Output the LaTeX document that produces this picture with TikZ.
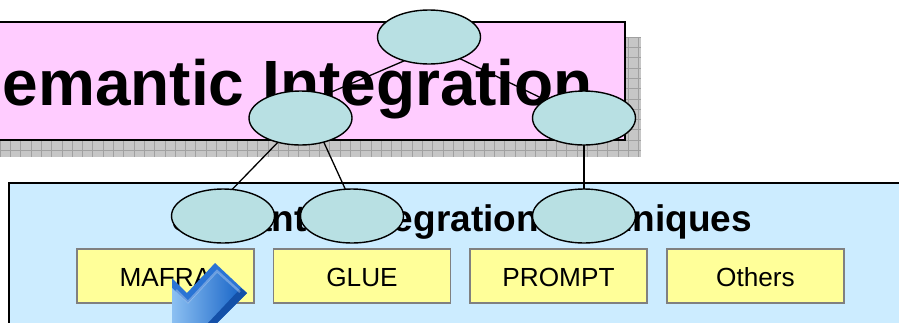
\documentclass[tikz,border=0pt]{standalone}
\usepackage{fontspec}
\setmainfont{Liberation Sans}
\usetikzlibrary{shapes.geometric}
\definecolor{pinkbox}{HTML}{FFCCFF}
\definecolor{bluebox}{HTML}{CCECFF}
\definecolor{yellowbox}{HTML}{FFFF99}
\definecolor{ell}{HTML}{B8E0E3}
\definecolor{shadowfill}{HTML}{C6C6C6}
\definecolor{shadowgrid}{HTML}{A0A0A0}
\definecolor{arrowlight}{HTML}{8CC0F2}
\definecolor{arrowmid}{HTML}{1A66C8}
\definecolor{arrowdark}{HTML}{1450A8}
\definecolor{arrowrim}{HTML}{2A74D4}
\tikzset{
  oval/.style={ellipse,draw=black,line width=1.4pt,fill=ell,minimum width=103pt,minimum height=54pt,inner sep=0pt,outer sep=0pt},
  btn/.style={rectangle,draw=black!50,line width=1.4pt,fill=yellowbox,minimum width=177pt,minimum height=54pt,inner sep=0pt,outer sep=0pt,text height=20pt,text depth=0pt,font=\fontsize{26.2}{26.2}\selectfont},
  conn/.style={draw=black,line width=1.3pt},
  titleA/.style={inner sep=0pt,outer sep=0pt,font=\bfseries\fontsize{64}{64}\selectfont},
  titleB/.style={inner sep=0pt,outer sep=0pt,font=\bfseries\fontsize{37}{37}\selectfont}
}
\begin{document}
\begin{tikzpicture}[x=1pt,y=-1pt]
\useasboundingbox (0,0) rectangle (899,322);
\clip (0,0) rectangle (899,322);
% hatched shadow
\fill[shadowfill] (0,37) rectangle (640.5,157);
\foreach \gx in {0,10.3,...,640}{\draw[shadowgrid,line width=0.6pt] (\gx,37) -- (\gx,157);}
\foreach \gy in {37,47.3,...,157}{\draw[shadowgrid,line width=0.6pt] (0,\gy) -- (640.5,\gy);}
% title panel
\draw[fill=pinkbox,draw=black,line width=1.4pt] (-5,22) rectangle (625,140);
\node[titleA,anchor=base east] (title) at (593,105) {Semantic Integration};
% lower panel
\draw[fill=bluebox,draw=black,line width=1.4pt] (9,183) rectangle (910,330);
\node[titleB,anchor=base east] (subtitle) at (752,231) {Semantic Integration Techniques};
% buttons
\node[btn] (mafra) at (165.5,276) {MAFRA};
\node[btn] (glue) at (362,276) {GLUE};
\node[btn] (prompt) at (558.5,276) {PROMPT};
\node[btn] (others) at (755.5,276) {Others};
% arrow
\fill[arrowrim] (172,278) -- (187,293) -- (215,263) -- (247,293) -- (217,323) -- (172,323) -- cycle;
\shade[left color=arrowlight,right color=arrowmid]
  (172,288) -- (188,303) -- (217,272) -- (240,293) -- (210,323) -- (172,323) -- cycle;
\fill[arrowdark] (247,293) -- (217,323) -- (208,323) -- (241,288) -- cycle;
\draw[white,opacity=0.3,line width=2.4pt] (176,290) -- (188,302) -- (217,271) -- (240,292);
% ovals and connectors
\node[oval] (top) at (429,37) {};
\node[oval] (left) at (300.5,118) {};
\node[oval] (right) at (584,118) {};
\node[oval] (b1) at (223,216) {};
\node[oval] (b2) at (352,216) {};
\node[oval] (b3) at (584,216) {};
\draw[conn] (top.224) -- (left.43);
\draw[conn] (top.325) -- (right.155);
\draw[conn] (left.227) -- (b1.71);
\draw[conn] (left.314) -- (b2.104);
\draw[conn] (right.south) -- (b3.north);
\end{tikzpicture}
\end{document}
